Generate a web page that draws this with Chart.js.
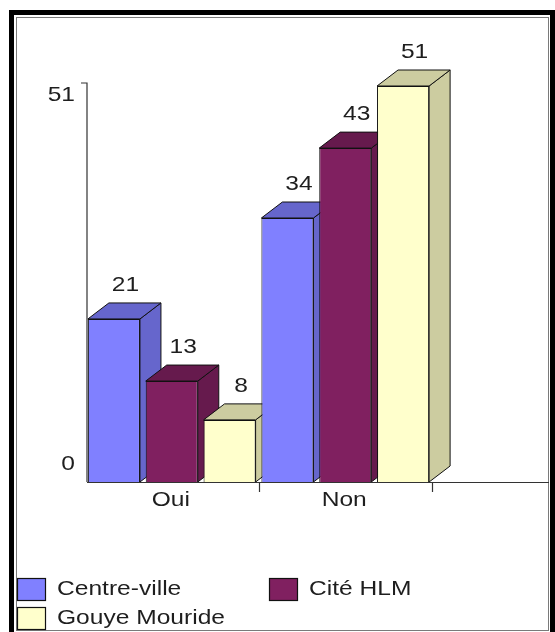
<!DOCTYPE html>
<html>
<head>
<meta charset="utf-8">
<title>Oui / Non par quartier</title>
<script src="https://cdn.jsdelivr.net/npm/chart.js@4.4.1/dist/chart.umd.min.js"></script>
<style>
  html, body { margin: 0; padding: 0; background: #ffffff; }
  #wrap { width: 555px; height: 632px; }
  canvas { display: block; }
</style>
</head>
<body>
<div id="wrap"><canvas id="chart" width="555" height="632"></canvas></div>
<script>
// ---- data ----
const categories = ['Oui', 'Non'];
const seriesNames = ['Centre-ville', 'Cité HLM', 'Gouye Mouride'];
const centreVille = [21, 34];
const citeHLM = [13, 43];
const gouyeMouride = [8, 51];
const yTickValues = [0, 51];

// ---- style ----
const frontColors = ['#8080FF', '#802060', '#FFFFCC'];
const shadeColors = ['#6666CC', '#661A4D', '#CCCCA0'];
const DEPTH_X = 21;
const DEPTH_Y = -16;
const FONT = '21px "Liberation Sans", Arial, sans-serif';
const TEXT_STRETCH = 1.17;
const TEXT_COLOR = '#1e1e1e';

function wideText(ctx, str, x, y, align) {
  ctx.save();
  ctx.translate(x, y);
  ctx.scale(TEXT_STRETCH, 1);
  ctx.font = FONT;
  ctx.fillStyle = TEXT_COLOR;
  ctx.textAlign = align;
  ctx.textBaseline = 'middle';
  ctx.fillText(str, 0, 0);
  ctx.restore();
}

function poly(ctx, pts, fill) {
  ctx.beginPath();
  ctx.moveTo(pts[0][0], pts[0][1]);
  for (let i = 1; i < pts.length; i++) ctx.lineTo(pts[i][0], pts[i][1]);
  ctx.closePath();
  ctx.fillStyle = fill;
  ctx.fill();
  ctx.lineWidth = 1;
  ctx.strokeStyle = '#111111';
  ctx.stroke();
}

// Frame, axes and tick labels
const framePlugin = {
  id: 'frame',
  beforeDraw(chart) {
    const ctx = chart.ctx;
    const W = chart.width, H = chart.height;
    ctx.save();
    ctx.fillStyle = '#ffffff';
    ctx.fillRect(0, 0, W, H);
    // thick outer frame
    ctx.strokeStyle = '#000000';
    ctx.lineWidth = 5;
    ctx.strokeRect(11.5, 12.5, 541, H + 10);
    // thin inner frame
    ctx.strokeStyle = '#7a7a7a';
    ctx.lineWidth = 1;
    ctx.strokeRect(16.5, 17.5, 532, 613);
    ctx.restore();
  },
  afterDraw(chart) {
    const ctx = chart.ctx;
    const x = chart.scales.x, y = chart.scales.y;
    const base = y.getPixelForValue(0);
    const axisX = chart.chartArea.left + 2;
    const axisTop = y.getPixelForValue(yTickValues[yTickValues.length - 1]) - 3;
    ctx.save();
    ctx.strokeStyle = '#333333';
    ctx.lineWidth = 1.2;
    // value axis
    ctx.beginPath();
    ctx.moveTo(axisX - 6, axisTop);
    ctx.lineTo(axisX, axisTop);
    ctx.lineTo(axisX, base);
    ctx.stroke();
    // category axis, running to the inner frame
    ctx.beginPath();
    ctx.moveTo(axisX, base + 0.5);
    ctx.lineTo(549, base + 0.5);
    ctx.stroke();
    // category separators
    const step = x.getPixelForValue(1) - x.getPixelForValue(0);
    categories.forEach((c, i) => {
      const bx = Math.round(x.getPixelForValue(i) + step / 2) + 0.5;
      ctx.beginPath();
      ctx.moveTo(bx, base);
      ctx.lineTo(bx, base + 10);
      ctx.stroke();
    });
    ctx.restore();

    // category labels
    categories.forEach((c, i) => {
      wideText(ctx, c, x.getPixelForValue(i) - 1, base + 18, 'center');
    });
    // value labels: kept inside the axis span
    yTickValues.forEach((v, i) => {
      const py = y.getPixelForValue(v);
      const off = (i === 0) ? -18 : 9;
      wideText(ctx, String(v), 75, py + off, 'right');
    });

    // legend
    const legendPos = [[17, 578], [269, 578], [17, 607]];
    chart.data.datasets.forEach((ds, i) => {
      const [lx, ly] = legendPos[i];
      ctx.save();
      ctx.fillStyle = ds.backgroundColor;
      ctx.fillRect(lx, ly, 29, 23);
      ctx.strokeStyle = '#111111';
      ctx.lineWidth = 1.2;
      ctx.strokeRect(lx + 0.5, ly + 0.5, 28, 22);
      ctx.restore();
      wideText(ctx, ds.label, lx + 40, ly + 11, 'left');
    });
  }
};

// Top and side faces of each column, drawn left to right before the front faces
const depthPlugin = {
  id: 'depth',
  beforeDatasetsDraw(chart) {
    const ctx = chart.ctx;
    ctx.save();
    categories.forEach((c, ci) => {
      chart.data.datasets.forEach((ds, di) => {
        const el = chart.getDatasetMeta(di).data[ci];
        const { x, y, base, width } = el.getProps(['x', 'y', 'base', 'width'], true);
        const l = x - width / 2, r = x + width / 2;
        // side face
        poly(ctx, [[r, base], [r + DEPTH_X, base + DEPTH_Y], [r + DEPTH_X, y + DEPTH_Y], [r, y]], shadeColors[di]);
        // top face
        poly(ctx, [[l, y], [l + DEPTH_X, y + DEPTH_Y], [r + DEPTH_X, y + DEPTH_Y], [r, y]], shadeColors[di]);
      });
    });
    ctx.restore();
  },
  afterDatasetsDraw(chart) {
    const ctx = chart.ctx;
    chart.data.datasets.forEach((ds, di) => {
      chart.getDatasetMeta(di).data.forEach((el, ci) => {
        const { x, y } = el.getProps(['x', 'y'], true);
        wideText(ctx, String(ds.data[ci]), x + DEPTH_X / 2 + 1, y + DEPTH_Y - 18, 'center');
      });
    });
  }
};

const seriesData = [centreVille, citeHLM, gouyeMouride];

new Chart(document.getElementById('chart'), {
  type: 'bar',
  data: {
    labels: categories,
    datasets: seriesNames.map((name, i) => ({
      label: name,
      data: seriesData[i],
      backgroundColor: frontColors[i],
      borderColor: '#111111',
      borderWidth: 1,
      barPercentage: 0.9,
      categoryPercentage: 1.0
    }))
  },
  options: {
    responsive: false,
    animation: false,
    layout: { padding: { left: 85, right: 123, top: 86, bottom: 150 } },
    scales: {
      x: { display: false },
      y: { display: false, min: 0, max: 51 }
    },
    plugins: {
      legend: { display: false },
      tooltip: { enabled: false }
    }
  },
  plugins: [framePlugin, depthPlugin]
});
</script>
</body>
</html>
